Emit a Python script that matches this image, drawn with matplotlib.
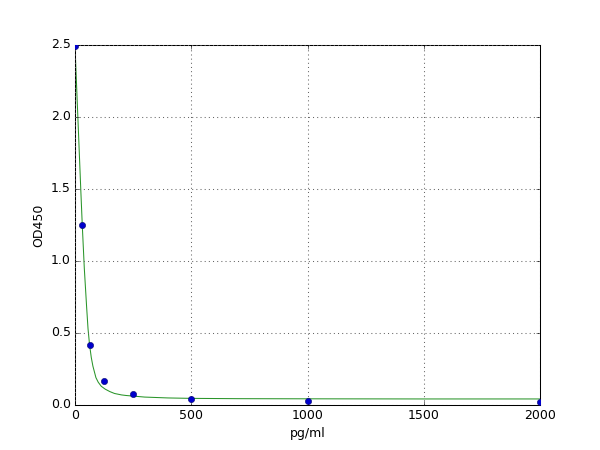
import matplotlib
matplotlib.use("Agg")
import matplotlib.pyplot as plt

# Standard points
conc = [0, 31.25, 62.5, 125, 250, 500, 1000, 2000]
od = [2.49, 1.25, 0.42, 0.17, 0.075, 0.042, 0.028, 0.018]

# Fitted curve
curve_x = [0, 5, 10, 15, 20, 25, 31.25, 40, 50, 56, 62.5, 70, 77, 90, 100, 113, 130,
           150, 170, 200, 220, 300, 400, 500, 700, 1000, 1500, 2000]
curve_y = [2.49, 2.29, 2.09, 1.89, 1.69, 1.49, 1.25, 0.95, 0.68, 0.53, 0.42, 0.33,
           0.27, 0.19, 0.158, 0.13, 0.11, 0.093, 0.08, 0.07, 0.066, 0.055, 0.049,
           0.046, 0.044, 0.043, 0.042, 0.042]

xticks = [0, 500, 1000, 1500, 2000]
yticks = [0.0, 0.5, 1.0, 1.5, 2.0, 2.5]

plt.style.use("classic")
fig = plt.figure(figsize=(8, 6), dpi=75)
ax = fig.add_subplot(111)
fig.subplots_adjust(left=0.125, right=0.9, bottom=0.1, top=0.9)

ax.plot(curve_x, curve_y, color="#2a952a", linewidth=1.0)
ax.plot(conc, od, "o", color="#0000cc", markeredgecolor="#000066",
        markersize=6, zorder=3)

ax.set_xlim(0, 2000)
ax.set_ylim(0, 2.5)
ax.set_xticks(xticks)
ax.set_yticks(yticks)
ax.set_xticklabels([str(t) for t in xticks])
ax.set_yticklabels([f"{t:.1f}" for t in yticks])
ax.grid(True, linestyle=":", color="#666666", linewidth=1.0)
ax.set_xlabel("pg/ml")
ax.set_ylabel("OD450")

fig.savefig("out.png", dpi=75, facecolor="white")
